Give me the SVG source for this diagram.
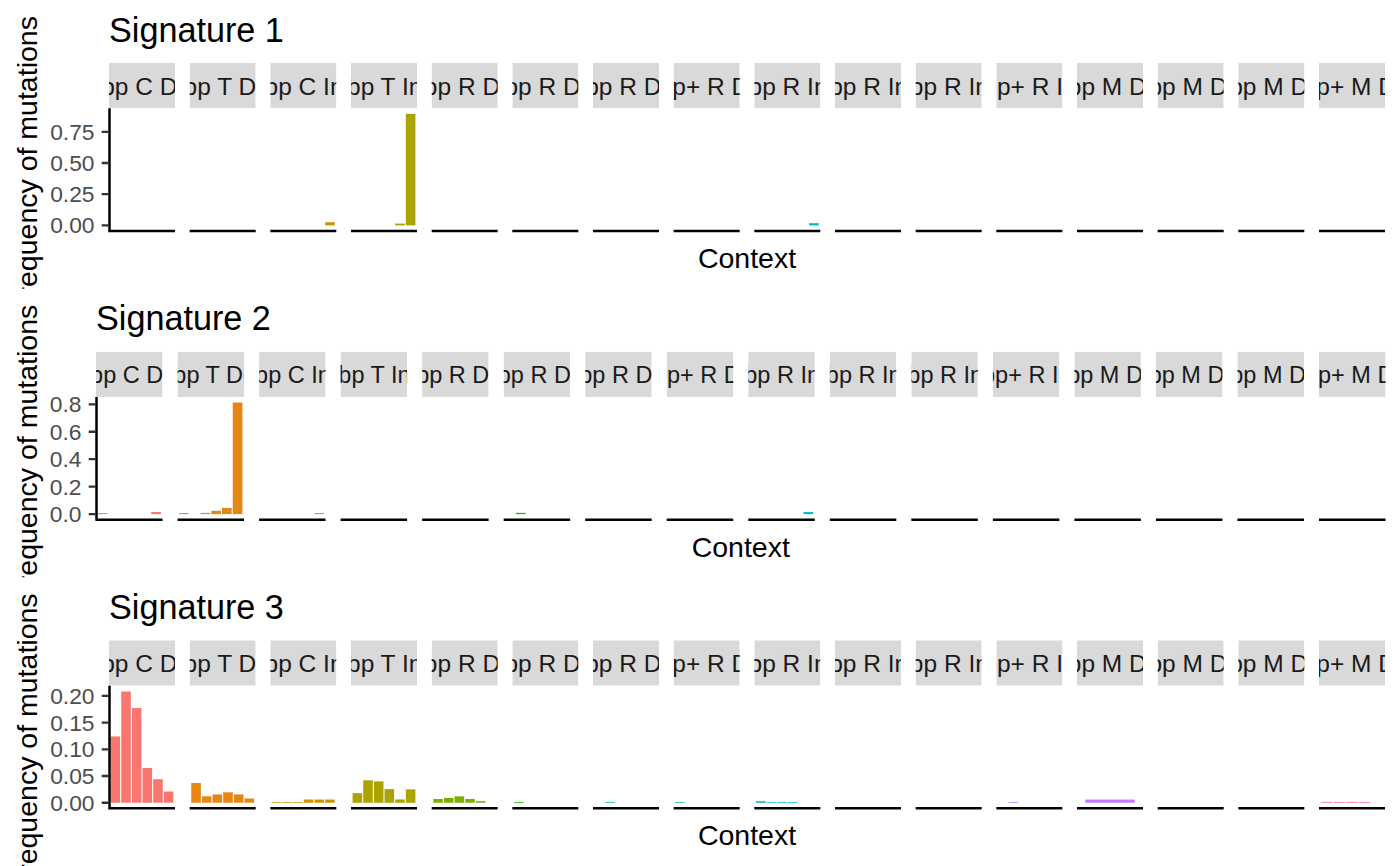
<svg xmlns="http://www.w3.org/2000/svg" width="1400" height="866" viewBox="0 0 1400 866">
<style>
text{font-family:"Liberation Sans",Arial,Helvetica,sans-serif}
.title{font-size:34.2px;fill:#000}
.st{font-size:24.5px;fill:#1A1A1A;text-anchor:middle}
.st2{font-size:23.5px;fill:#1A1A1A;text-anchor:middle}
.sb{fill:#D9D9D9}
.tl{font-size:22.8px;fill:#4D4D4D;text-anchor:end}
.ax{stroke:#000;stroke-width:2.5;fill:none}
.tk{stroke:#333;stroke-width:2.3}
.yt{font-size:28.5px;fill:#000;text-anchor:middle}
.xt{font-size:28.5px;fill:#000;text-anchor:middle}
.c0{fill:#F8766D}.c1{fill:#E68613}.c2{fill:#CD9600}.c3{fill:#ABA300}.c4{fill:#7CAE00}.c5{fill:#0CB702}.c6{fill:#00BE67}.c7{fill:#00C19A}.c8{fill:#00BFC4}.c11{fill:#8494FF}.c12{fill:#C77CFF}.c15{fill:#FF68A1}
</style>
<rect width="1400" height="866" fill="#fff"/>

<!-- ===== Signature 1 ===== -->
<svg id="sig1" x="0" y="0" width="1400" height="288.67">
  <text class="title" x="109" y="41.5">Signature 1</text>
  <text class="yt" transform="translate(36.7,165) rotate(-90)">Frequency of mutations</text>
  <g id="sig1-strips">
    <svg x="109" y="63" width="66" height="45.3"><rect class="sb" width="66" height="45.3"/><text class="st" x="33" y="31.5">1bp C Del</text></svg>
    <svg x="189.67" y="63" width="66" height="45.3"><rect class="sb" width="66" height="45.3"/><text class="st" x="33" y="31.5">1bp T Del</text></svg>
    <svg x="270.33" y="63" width="66" height="45.3"><rect class="sb" width="66" height="45.3"/><text class="st" x="33" y="31.5">1bp C Ins</text></svg>
    <svg x="351" y="63" width="66" height="45.3"><rect class="sb" width="66" height="45.3"/><text class="st" x="33" y="31.5">1bp T Ins</text></svg>
    <svg x="431.67" y="63" width="66" height="45.3"><rect class="sb" width="66" height="45.3"/><text class="st" x="33" y="31.5">2bp R Del</text></svg>
    <svg x="512.33" y="63" width="66" height="45.3"><rect class="sb" width="66" height="45.3"/><text class="st" x="33" y="31.5">3bp R Del</text></svg>
    <svg x="593" y="63" width="66" height="45.3"><rect class="sb" width="66" height="45.3"/><text class="st" x="33" y="31.5">4bp R Del</text></svg>
    <svg x="673.67" y="63" width="66" height="45.3"><rect class="sb" width="66" height="45.3"/><text class="st" x="33" y="31.5">5bp+ R Del</text></svg>
    <svg x="754.33" y="63" width="66" height="45.3"><rect class="sb" width="66" height="45.3"/><text class="st" x="33" y="31.5">2bp R Ins</text></svg>
    <svg x="835" y="63" width="66" height="45.3"><rect class="sb" width="66" height="45.3"/><text class="st" x="33" y="31.5">3bp R Ins</text></svg>
    <svg x="915.67" y="63" width="66" height="45.3"><rect class="sb" width="66" height="45.3"/><text class="st" x="33" y="31.5">4bp R Ins</text></svg>
    <svg x="996.33" y="63" width="66" height="45.3"><rect class="sb" width="66" height="45.3"/><text class="st" x="33" y="31.5">5bp+ R Ins</text></svg>
    <svg x="1077" y="63" width="66" height="45.3"><rect class="sb" width="66" height="45.3"/><text class="st" x="33" y="31.5">2bp M Del</text></svg>
    <svg x="1157.67" y="63" width="66" height="45.3"><rect class="sb" width="66" height="45.3"/><text class="st" x="33" y="31.5">3bp M Del</text></svg>
    <svg x="1238.33" y="63" width="66" height="45.3"><rect class="sb" width="66" height="45.3"/><text class="st" x="33" y="31.5">4bp M Del</text></svg>
    <svg x="1319" y="63" width="66" height="45.3"><rect class="sb" width="66" height="45.3"/><text class="st" x="33" y="31.5">5bp+ M Del</text></svg>
  </g>
  <g id="sig1-bars">
    <rect class="c2" x="325.16" y="222.18" width="9.58" height="3.24"/>
    <rect class="c3" x="395.18" y="223.55" width="9.58" height="1.87"/>
    <rect class="c3" x="405.82" y="113.85" width="9.58" height="111.57"/>
    <rect class="c8" x="809.16" y="223.17" width="9.58" height="2.25"/>
  </g>
  <g id="sig1-axes">
    <path class="ax" d="M109.5,108.3V232.2M109,231H175M189.67,231H255.67M270.33,231H336.33M351,231H417M431.67,231H497.67M512.33,231H578.33M593,231H659M673.67,231H739.67M754.33,231H820.33M835,231H901M915.67,231H981.67M996.33,231H1062.33M1077,231H1143M1157.67,231H1223.67M1238.33,231H1304.33M1319,231H1385"/>
    <path class="tk" d="M101.7,225.42H109M101.7,194.22H109M101.7,163.02H109M101.7,131.82H109"/>
    <text class="tl" x="94.5" y="233.4">0.00</text>
    <text class="tl" x="94.5" y="202.2">0.25</text>
    <text class="tl" x="94.5" y="171">0.50</text>
    <text class="tl" x="94.5" y="139.8">0.75</text>
  </g>
  <text class="xt" x="747" y="268">Context</text>
</svg>

<!-- ===== Signature 2 ===== -->
<svg id="sig2" x="0" y="288.67" width="1400" height="288.67">
  <text class="title" x="96" y="41.5">Signature 2</text>
  <text class="yt" transform="translate(36.7,165) rotate(-90)">Frequency of mutations</text>
  <g id="sig2-strips">
    <svg x="96" y="63" width="66.5" height="45.3"><rect class="sb" width="66.5" height="45.3"/><text class="st2" x="33.25" y="31">1bp C Del</text></svg>
    <svg x="177.53" y="63" width="66.5" height="45.3"><rect class="sb" width="66.5" height="45.3"/><text class="st2" x="33.25" y="31">1bp T Del</text></svg>
    <svg x="259.07" y="63" width="66.5" height="45.3"><rect class="sb" width="66.5" height="45.3"/><text class="st2" x="33.25" y="31">1bp C Ins</text></svg>
    <svg x="340.6" y="63" width="66.5" height="45.3"><rect class="sb" width="66.5" height="45.3"/><text class="st2" x="33.25" y="31">1bp T Ins</text></svg>
    <svg x="422.13" y="63" width="66.5" height="45.3"><rect class="sb" width="66.5" height="45.3"/><text class="st2" x="33.25" y="31">2bp R Del</text></svg>
    <svg x="503.67" y="63" width="66.5" height="45.3"><rect class="sb" width="66.5" height="45.3"/><text class="st2" x="33.25" y="31">3bp R Del</text></svg>
    <svg x="585.2" y="63" width="66.5" height="45.3"><rect class="sb" width="66.5" height="45.3"/><text class="st2" x="33.25" y="31">4bp R Del</text></svg>
    <svg x="666.73" y="63" width="66.5" height="45.3"><rect class="sb" width="66.5" height="45.3"/><text class="st2" x="33.25" y="31">5bp+ R Del</text></svg>
    <svg x="748.27" y="63" width="66.5" height="45.3"><rect class="sb" width="66.5" height="45.3"/><text class="st2" x="33.25" y="31">2bp R Ins</text></svg>
    <svg x="829.8" y="63" width="66.5" height="45.3"><rect class="sb" width="66.5" height="45.3"/><text class="st2" x="33.25" y="31">3bp R Ins</text></svg>
    <svg x="911.33" y="63" width="66.5" height="45.3"><rect class="sb" width="66.5" height="45.3"/><text class="st2" x="33.25" y="31">4bp R Ins</text></svg>
    <svg x="992.87" y="63" width="66.5" height="45.3"><rect class="sb" width="66.5" height="45.3"/><text class="st2" x="33.25" y="31">5bp+ R Ins</text></svg>
    <svg x="1074.4" y="63" width="66.5" height="45.3"><rect class="sb" width="66.5" height="45.3"/><text class="st2" x="33.25" y="31">2bp M Del</text></svg>
    <svg x="1155.93" y="63" width="66.5" height="45.3"><rect class="sb" width="66.5" height="45.3"/><text class="st2" x="33.25" y="31">3bp M Del</text></svg>
    <svg x="1237.47" y="63" width="66.5" height="45.3"><rect class="sb" width="66.5" height="45.3"/><text class="st2" x="33.25" y="31">4bp M Del</text></svg>
    <svg x="1319" y="63" width="66.5" height="45.3"><rect class="sb" width="66.5" height="45.3"/><text class="st2" x="33.25" y="31">5bp+ M Del</text></svg>
  </g>
  <g id="sig2-bars">
    <rect class="c0" x="97.61" y="224.4" width="9.65" height="1.02"/>
    <rect class="c0" x="151.24" y="223.36" width="9.65" height="2.06"/>
    <rect class="c1" x="179.14" y="224.4" width="9.65" height="1.02"/>
    <rect class="c1" x="200.59" y="224.22" width="9.65" height="1.2"/>
    <rect class="c1" x="211.32" y="222.13" width="9.65" height="3.29"/>
    <rect class="c1" x="222.04" y="219.25" width="9.65" height="6.17"/>
    <rect class="c1" x="232.77" y="113.88" width="9.65" height="111.54"/>
    <rect class="c2" x="314.31" y="224.4" width="9.65" height="1.02"/>
    <rect class="c5" x="516" y="224.2" width="9.65" height="1.22"/>
    <rect class="c8" x="803.5" y="223.36" width="9.65" height="2.06"/>
  </g>
  <g id="sig2-axes">
    <path class="ax" d="M96.5,108.3V232.2M96,231H162.5M177.53,231H244.03M259.07,231H325.57M340.6,231H407.1M422.13,231H488.63M503.67,231H570.17M585.2,231H651.7M666.73,231H733.23M748.27,231H814.77M829.8,231H896.3M911.33,231H977.83M992.87,231H1059.37M1074.4,231H1140.9M1155.93,231H1222.43M1237.47,231H1303.97M1319,231H1385.5"/>
    <path class="tk" d="M88.7,225.42H96M88.7,197.98H96M88.7,170.54H96M88.7,143.1H96M88.7,115.66H96"/>
    <text class="tl" x="81.5" y="233.4">0.0</text>
    <text class="tl" x="81.5" y="206">0.2</text>
    <text class="tl" x="81.5" y="178.5">0.4</text>
    <text class="tl" x="81.5" y="151.1">0.6</text>
    <text class="tl" x="81.5" y="123.7">0.8</text>
  </g>
  <text class="xt" x="740.75" y="268">Context</text>
</svg>

<!-- ===== Signature 3 ===== -->
<svg id="sig3" x="0" y="577.33" width="1400" height="288.67">
  <text class="title" x="109" y="41.5">Signature 3</text>
  <text class="yt" transform="translate(36.7,165) rotate(-90)">Frequency of mutations</text>
  <g id="sig3-strips">
    <svg x="109" y="63" width="66" height="45.3"><rect class="sb" width="66" height="45.3"/><text class="st" x="33" y="31.5">1bp C Del</text></svg>
    <svg x="189.67" y="63" width="66" height="45.3"><rect class="sb" width="66" height="45.3"/><text class="st" x="33" y="31.5">1bp T Del</text></svg>
    <svg x="270.33" y="63" width="66" height="45.3"><rect class="sb" width="66" height="45.3"/><text class="st" x="33" y="31.5">1bp C Ins</text></svg>
    <svg x="351" y="63" width="66" height="45.3"><rect class="sb" width="66" height="45.3"/><text class="st" x="33" y="31.5">1bp T Ins</text></svg>
    <svg x="431.67" y="63" width="66" height="45.3"><rect class="sb" width="66" height="45.3"/><text class="st" x="33" y="31.5">2bp R Del</text></svg>
    <svg x="512.33" y="63" width="66" height="45.3"><rect class="sb" width="66" height="45.3"/><text class="st" x="33" y="31.5">3bp R Del</text></svg>
    <svg x="593" y="63" width="66" height="45.3"><rect class="sb" width="66" height="45.3"/><text class="st" x="33" y="31.5">4bp R Del</text></svg>
    <svg x="673.67" y="63" width="66" height="45.3"><rect class="sb" width="66" height="45.3"/><text class="st" x="33" y="31.5">5bp+ R Del</text></svg>
    <svg x="754.33" y="63" width="66" height="45.3"><rect class="sb" width="66" height="45.3"/><text class="st" x="33" y="31.5">2bp R Ins</text></svg>
    <svg x="835" y="63" width="66" height="45.3"><rect class="sb" width="66" height="45.3"/><text class="st" x="33" y="31.5">3bp R Ins</text></svg>
    <svg x="915.67" y="63" width="66" height="45.3"><rect class="sb" width="66" height="45.3"/><text class="st" x="33" y="31.5">4bp R Ins</text></svg>
    <svg x="996.33" y="63" width="66" height="45.3"><rect class="sb" width="66" height="45.3"/><text class="st" x="33" y="31.5">5bp+ R Ins</text></svg>
    <svg x="1077" y="63" width="66" height="45.3"><rect class="sb" width="66" height="45.3"/><text class="st" x="33" y="31.5">2bp M Del</text></svg>
    <svg x="1157.67" y="63" width="66" height="45.3"><rect class="sb" width="66" height="45.3"/><text class="st" x="33" y="31.5">3bp M Del</text></svg>
    <svg x="1238.33" y="63" width="66" height="45.3"><rect class="sb" width="66" height="45.3"/><text class="st" x="33" y="31.5">4bp M Del</text></svg>
    <svg x="1319" y="63" width="66" height="45.3"><rect class="sb" width="66" height="45.3"/><text class="st" x="33" y="31.5">5bp+ M Del</text></svg>
  </g>
  <g id="sig3-bars">
    <rect class="c0" x="110.6" y="159.12" width="9.58" height="66.3"/>
    <rect class="c0" x="121.24" y="114.2" width="9.58" height="111.22"/>
    <rect class="c0" x="131.89" y="130.78" width="9.58" height="94.64"/>
    <rect class="c0" x="142.53" y="190.66" width="9.58" height="34.76"/>
    <rect class="c0" x="153.18" y="201.89" width="9.58" height="23.53"/>
    <rect class="c0" x="163.82" y="214.19" width="9.58" height="11.23"/>
    <rect class="c1" x="191.26" y="205.64" width="9.58" height="19.78"/>
    <rect class="c1" x="201.91" y="219" width="9.58" height="6.42"/>
    <rect class="c1" x="212.55" y="217.13" width="9.58" height="8.29"/>
    <rect class="c1" x="223.2" y="214.99" width="9.58" height="10.43"/>
    <rect class="c1" x="233.84" y="217.13" width="9.58" height="8.29"/>
    <rect class="c1" x="244.49" y="221.14" width="9.58" height="4.28"/>
    <rect class="c2" x="271.93" y="224.62" width="9.58" height="0.8"/>
    <rect class="c2" x="282.57" y="224.62" width="9.58" height="0.8"/>
    <rect class="c2" x="293.22" y="224.62" width="9.58" height="0.8"/>
    <rect class="c2" x="303.86" y="222.21" width="9.58" height="3.21"/>
    <rect class="c2" x="314.51" y="222.21" width="9.58" height="3.21"/>
    <rect class="c2" x="325.16" y="222.21" width="9.58" height="3.21"/>
    <rect class="c3" x="352.6" y="215.8" width="9.58" height="9.62"/>
    <rect class="c3" x="363.24" y="202.96" width="9.58" height="22.46"/>
    <rect class="c3" x="373.89" y="204.03" width="9.58" height="21.39"/>
    <rect class="c3" x="384.53" y="211.79" width="9.58" height="13.63"/>
    <rect class="c3" x="395.18" y="222.1" width="9.58" height="3.32"/>
    <rect class="c3" x="405.82" y="212.05" width="9.58" height="13.37"/>
    <rect class="c4" x="433.26" y="221.68" width="9.58" height="3.74"/>
    <rect class="c4" x="443.91" y="220.61" width="9.58" height="4.81"/>
    <rect class="c4" x="454.55" y="219" width="9.58" height="6.42"/>
    <rect class="c4" x="465.2" y="221.68" width="9.58" height="3.74"/>
    <rect class="c4" x="475.84" y="223.82" width="9.58" height="1.6"/>
    <rect class="c5" x="513.93" y="224.62" width="9.58" height="0.8"/>
    <rect class="c6" x="605.24" y="224.62" width="9.58" height="0.8"/>
    <rect class="c7" x="675.26" y="224.62" width="9.58" height="0.8"/>
    <rect class="c8" x="755.93" y="223.82" width="9.58" height="1.6"/>
    <rect class="c8" x="766.58" y="224.62" width="9.58" height="0.8"/>
    <rect class="c8" x="777.22" y="224.62" width="9.58" height="0.8"/>
    <rect class="c8" x="787.87" y="224.62" width="9.58" height="0.8"/>
    <rect class="c11" x="1008.58" y="224.62" width="9.58" height="0.8"/>
    <rect class="c12" x="1085.25" y="222.21" width="49.5" height="3.21"/>
    <rect class="c15" x="1320.9" y="224.62" width="11.42" height="0.8"/>
    <rect class="c15" x="1333.6" y="224.62" width="11.42" height="0.8"/>
    <rect class="c15" x="1346.29" y="224.62" width="11.42" height="0.8"/>
    <rect class="c15" x="1358.98" y="224.62" width="11.42" height="0.8"/>
  </g>
  <g id="sig3-axes">
    <path class="ax" d="M109.5,108.3V232.2M109,231H175M189.67,231H255.67M270.33,231H336.33M351,231H417M431.67,231H497.67M512.33,231H578.33M593,231H659M673.67,231H739.67M754.33,231H820.33M835,231H901M915.67,231H981.67M996.33,231H1062.33M1077,231H1143M1157.67,231H1223.67M1238.33,231H1304.33M1319,231H1385"/>
    <path class="tk" d="M101.7,225.42H109M101.7,198.69H109M101.7,171.95H109M101.7,145.22H109M101.7,118.48H109"/>
    <text class="tl" x="94.5" y="233.4">0.00</text>
    <text class="tl" x="94.5" y="206.7">0.05</text>
    <text class="tl" x="94.5" y="180">0.10</text>
    <text class="tl" x="94.5" y="153.2">0.15</text>
    <text class="tl" x="94.5" y="126.5">0.20</text>
  </g>
  <text class="xt" x="747" y="268">Context</text>
</svg>
</svg>
